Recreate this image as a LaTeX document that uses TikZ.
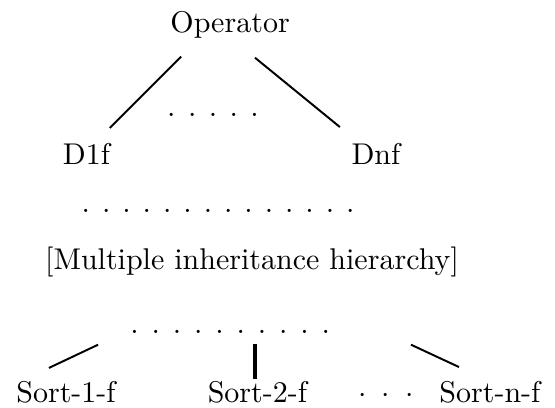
\documentclass[tikz,border=0pt]{standalone}
\usepackage{tikz}
\usetikzlibrary{positioning,calc}
\tikzset{
  lbl/.style={inner sep=0pt, anchor=base, font=\fontsize{10}{12}\selectfont},
  link/.style={line width=0.65pt},
  tlink/.style={line width=1.2pt}
}
% row of spaced baseline dots
\newcommand{\dotrow}[2][4.15pt]{.\foreach \k in {2,...,#2}{\hspace{#1}.}}

\begin{document}
\begin{tikzpicture}
  \useasboundingbox (0,0) rectangle (185pt,-136pt);
  \node[lbl] (op) at (76.7pt,-11pt) {Operator};
  \node[lbl] (d1) at (28.8pt,-55pt) {D1f};
  \node[lbl] (dn) at (125.3pt,-55pt) {Dnf};
  \node[lbl] (dtop) at (71pt,-38.8pt) {\dotrow{5}};
  \node[lbl] (dmid) at (72.7pt,-70.7pt) {\dotrow[4pt]{14}};
  \node[lbl] (mih) at (84pt,-90pt) {[Multiple inheritance hierarchy]};
  \node[lbl] (dlow) at (76.7pt,-111.2pt) {\dotrow[4.3pt]{10}};
  \node[lbl] (s1) at (22pt,-134.3pt) {Sort-1-f};
  \node[lbl] (s2) at (85.8pt,-134.3pt) {Sort-2-f};
  \node[lbl] (sdots) at (128.7pt,-134.3pt) {$\cdot$\hspace{5pt}$\cdot$\hspace{5pt}$\cdot$};
  \node[lbl] (sn) at (163.3pt,-134.3pt) {Sort-n-f};

  \draw[link] ([shift={(-16.3pt,-5.7pt)}]op.south) -- ([shift={(7.8pt,5.1pt)}]d1.north);
  \draw[link] ([shift={(8.3pt,-6.1pt)}]op.south) -- ([shift={(-12pt,5.4pt)}]dn.north);
  \draw[link] ([shift={(-44pt,-3.5pt)}]dlow.south) -- ([shift={(-5.7pt,4.4pt)}]s1.north);
  \draw[tlink] ([shift={(8.3pt,-3.2pt)}]dlow.south) -- ([shift={(-0.8pt,0.7pt)}]s2.north);
  \draw[link] ([shift={(60.3pt,-3.5pt)}]dlow.south) -- ([shift={(-10.3pt,4.7pt)}]sn.north);
\end{tikzpicture}
\end{document}
